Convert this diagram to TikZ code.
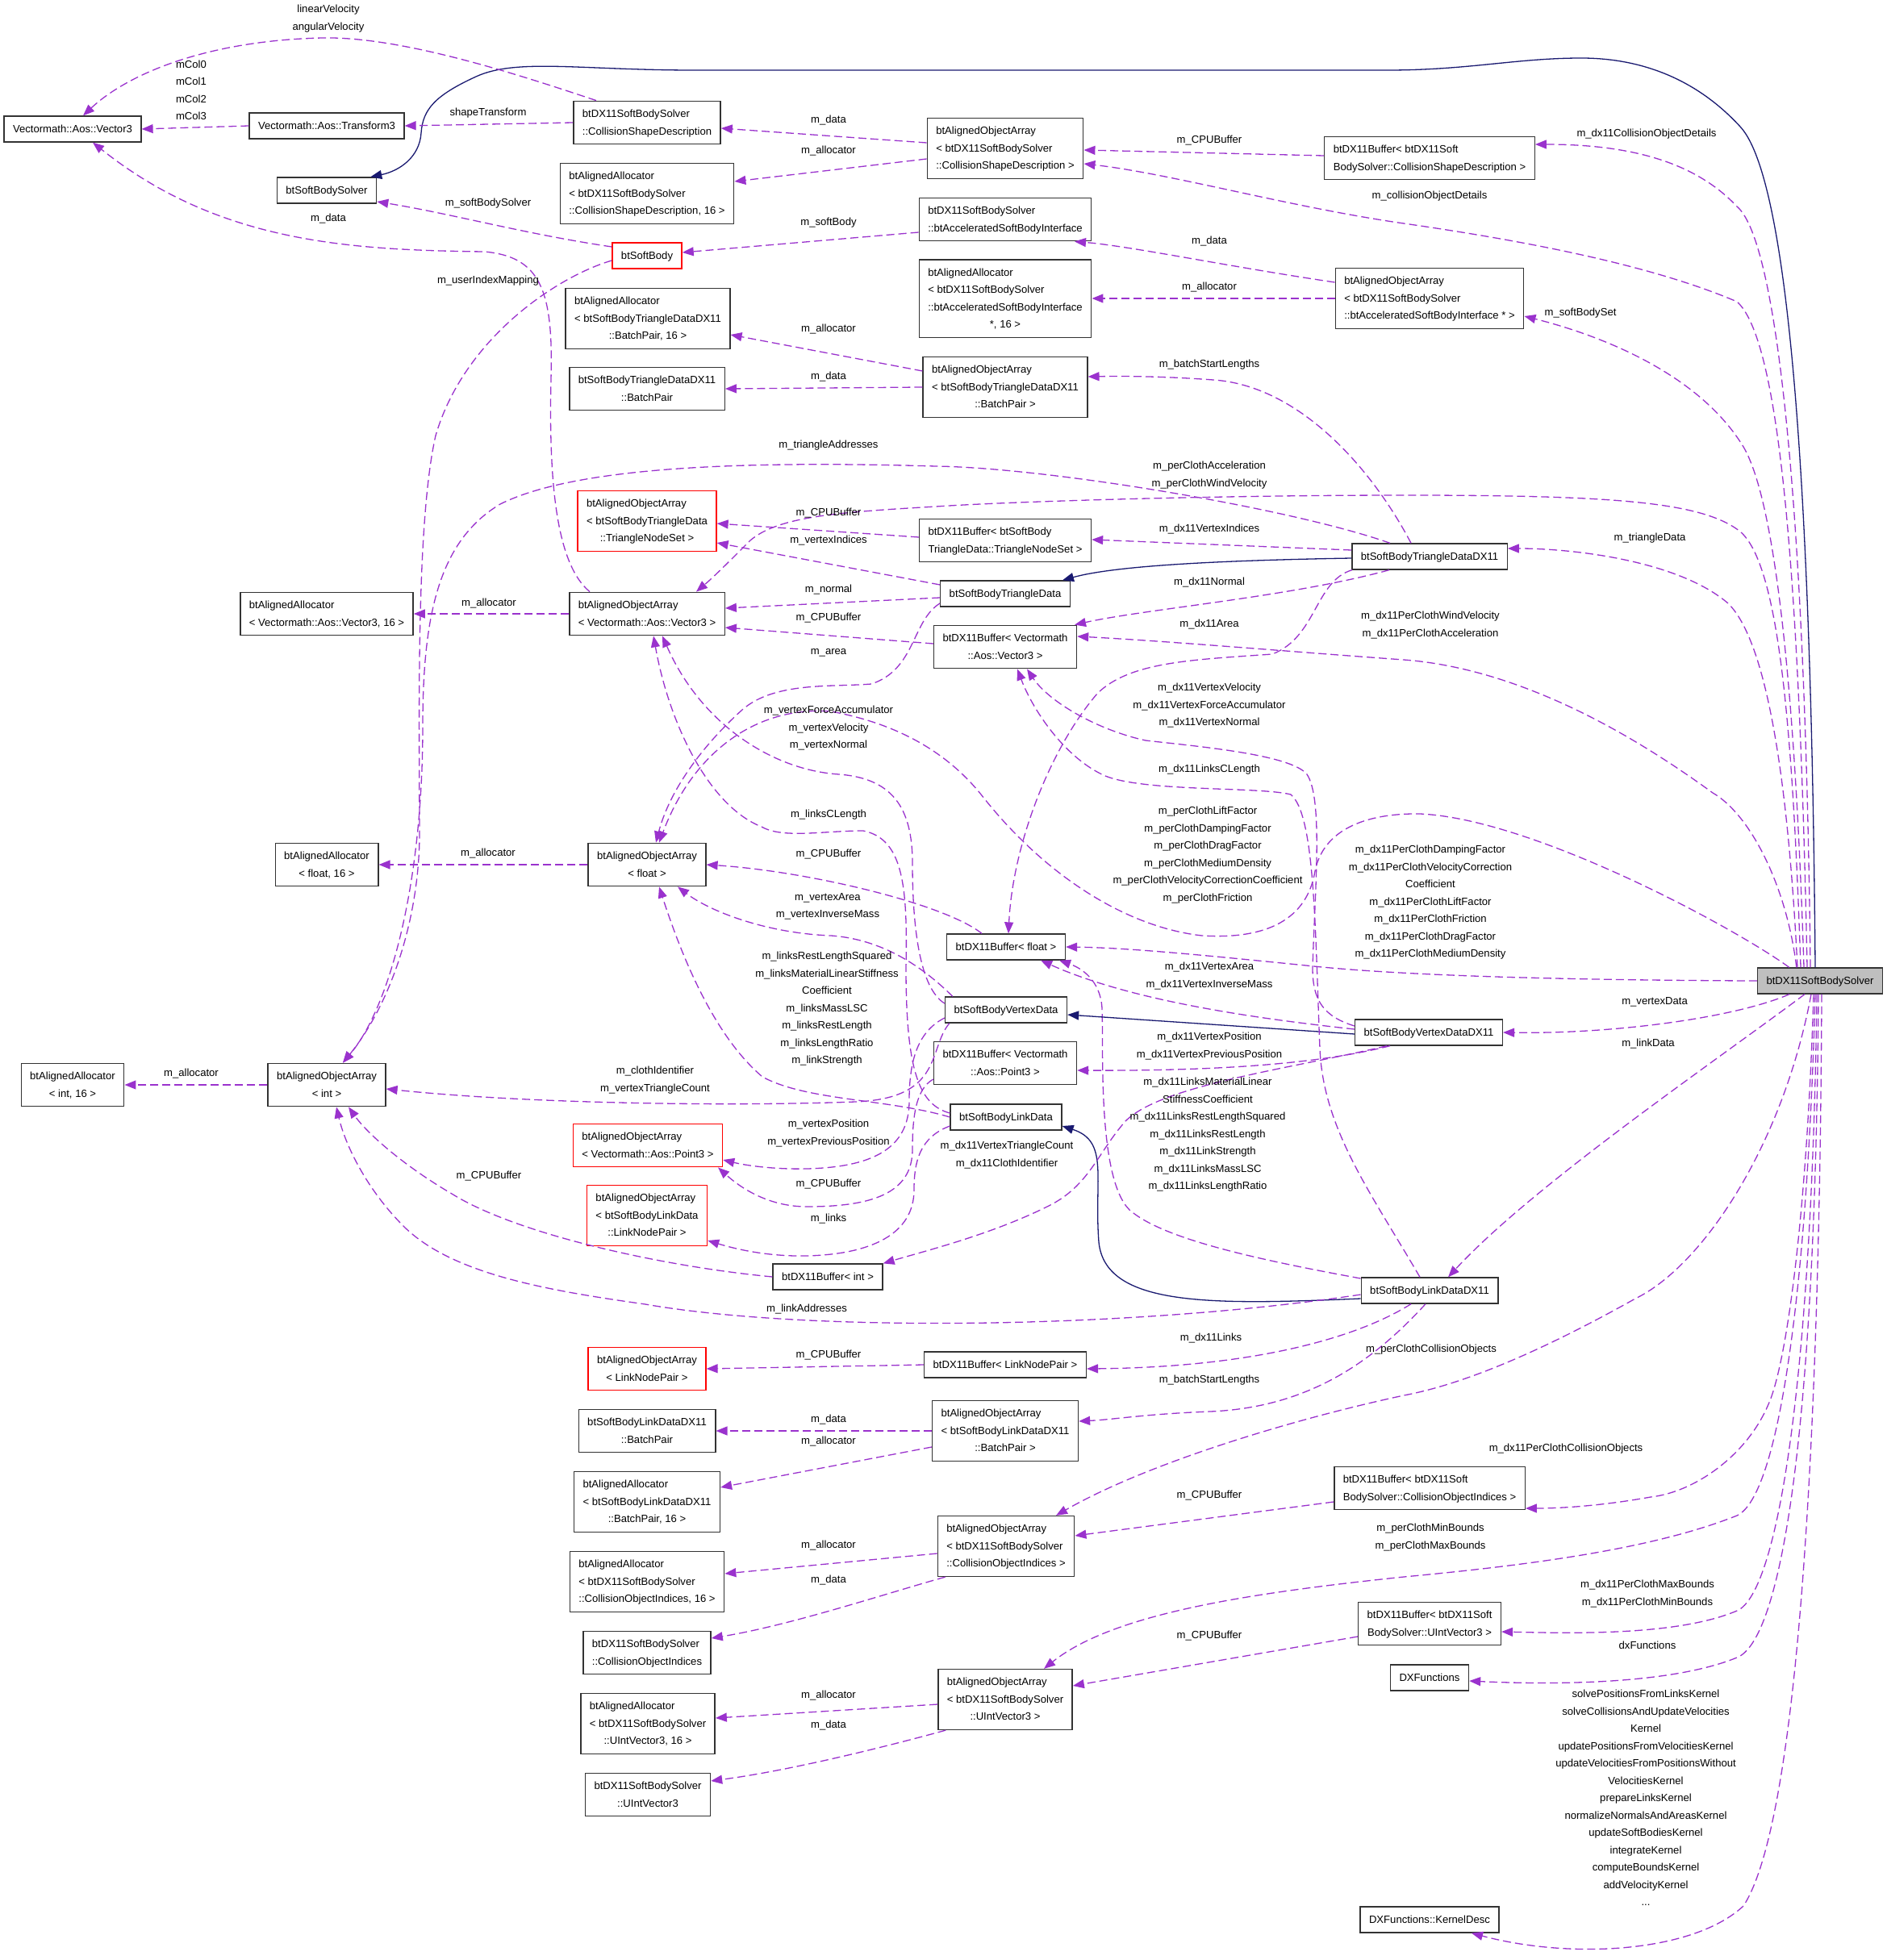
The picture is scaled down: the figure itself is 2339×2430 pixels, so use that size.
\documentclass[tikz,border=0pt]{standalone}
\usepackage{fontspec}
\setmainfont{Liberation Sans}
\usetikzlibrary{arrows.meta,calc}
\definecolor{depc}{HTML}{9A32CD}
\definecolor{inhc}{HTML}{191970}
\definecolor{mainfill}{HTML}{BFBFBF}
\newcommand{\nt}[2]{\begin{tabular}{@{}l@{}}#1\multicolumn{1}{@{}c@{}}{#2}\end{tabular}}
\begin{document}
\begin{tikzpicture}[x=0.5pt,y=-0.5pt,font=\fontsize{6.55}{10.75}\selectfont,
  cls/.style={draw=black!80,line width=0.7pt,fill=white,inner xsep=5.5pt,inner ysep=2.6pt,text=black},
  clsred/.style={cls,draw=red},
  clsmain/.style={cls,fill=mainfill},
  dep/.style={draw=depc,line width=0.65pt,dash pattern=on 5pt off 2.5pt,-{Triangle[length=7pt,width=5.5pt]}},
  inhs/.style={draw=inhc,line width=0.65pt,-{Triangle[length=7pt,width=5.5pt]}},
  lbl/.style={align=center,inner sep=0pt,text=black}]
\useasboundingbox (0,0) rectangle (2339,2430);
% ---------- nodes ----------
\node[cls] (V3) at (90,160) {\nt{}{Vectormath::Aos::Vector3}};
\node[cls] (AAint) at (90,1345) {\nt{btAlignedAllocator\\}{< int, 16 >}};
\node[cls] (T3) at (405,156) {\nt{}{Vectormath::Aos::Transform3}};
\node[cls] (SBS) at (405,236) {\nt{}{btSoftBodySolver}};
\node[cls] (AAV3) at (405,761) {\nt{btAlignedAllocator\\}{< Vectormath::Aos::Vector3, 16 >}};
\node[cls] (AAfloat) at (405,1072) {\nt{btAlignedAllocator\\}{< float, 16 >}};
\node[cls] (AOAint) at (405,1345) {\nt{btAlignedObjectArray\\}{< int >}};
\node[cls] (CSD) at (802,152) {\nt{btDX11SoftBodySolver\\}{::CollisionShapeDescription}};
\node[cls] (AACSD) at (802,240) {\nt{btAlignedAllocator\\< btDX11SoftBodySolver\\}{::CollisionShapeDescription, 16 >}};
\node[clsred] (SB) at (802,317) {\nt{}{btSoftBody}};
\node[cls] (AATBP) at (803,395) {\nt{btAlignedAllocator\\< btSoftBodyTriangleDataDX11\\}{::BatchPair, 16 >}};
\node[cls] (TBP) at (802,482) {\nt{btSoftBodyTriangleDataDX11\\}{::BatchPair}};
\node[clsred] (AOATNS) at (802,646) {\nt{btAlignedObjectArray\\< btSoftBodyTriangleData\\}{::TriangleNodeSet >}};
\node[cls] (AOAV3) at (802,761) {\nt{btAlignedObjectArray\\}{< Vectormath::Aos::Vector3 >}};
\node[cls] (AOAfloat) at (802,1072) {\nt{btAlignedObjectArray\\}{< float >}};
\node[clsred] (AOAP3) at (803,1420) {\nt{btAlignedObjectArray\\}{< Vectormath::Aos::Point3 >}};
\node[clsred] (AOALNP) at (802,1507) {\nt{btAlignedObjectArray\\< btSoftBodyLinkData\\}{::LinkNodePair >}};
\node[cls] (DXint) at (1026,1583) {\nt{}{btDX11Buffer< int >}};
\node[clsred] (AOALNP2) at (802,1697) {\nt{btAlignedObjectArray\\}{< LinkNodePair >}};
\node[cls] (LBP) at (802,1774) {\nt{btSoftBodyLinkDataDX11\\}{::BatchPair}};
\node[cls] (AALBP) at (802,1862) {\nt{btAlignedAllocator\\< btSoftBodyLinkDataDX11\\}{::BatchPair, 16 >}};
\node[cls] (AACOI) at (802,1961) {\nt{btAlignedAllocator\\< btDX11SoftBodySolver\\}{::CollisionObjectIndices, 16 >}};
\node[cls] (COI) at (802,2049) {\nt{btDX11SoftBodySolver\\}{::CollisionObjectIndices}};
\node[cls] (AAUIV) at (803,2137) {\nt{btAlignedAllocator\\< btDX11SoftBodySolver\\}{::UIntVector3, 16 >}};
\node[cls] (UIV) at (803,2225) {\nt{btDX11SoftBodySolver\\}{::UIntVector3}};
\node[cls] (AOACSD) at (1246,184) {\nt{btAlignedObjectArray\\< btDX11SoftBodySolver\\}{::CollisionShapeDescription >}};
\node[cls] (ASBI) at (1246,272) {\nt{btDX11SoftBodySolver\\}{::btAcceleratedSoftBodyInterface}};
\node[cls] (AAASBI) at (1246,370) {\nt{btAlignedAllocator\\< btDX11SoftBodySolver\\::btAcceleratedSoftBodyInterface\\}{*, 16 >}};
\node[cls] (AOATBP) at (1246,480) {\nt{btAlignedObjectArray\\< btSoftBodyTriangleDataDX11\\}{::BatchPair >}};
\node[cls] (DXTNS) at (1246,670) {\nt{btDX11Buffer< btSoftBody\\}{TriangleData::TriangleNodeSet >}};
\node[cls] (STD) at (1246,736) {\nt{}{btSoftBodyTriangleData}};
\node[cls] (DXV3) at (1246,802) {\nt{btDX11Buffer< Vectormath\\}{::Aos::Vector3 >}};
\node[cls] (DXfloat) at (1247,1174) {\nt{}{btDX11Buffer< float >}};
\node[cls] (SVD) at (1247,1252) {\nt{}{btSoftBodyVertexData}};
\node[cls] (DXP3) at (1246,1318) {\nt{btDX11Buffer< Vectormath\\}{::Aos::Point3 >}};
\node[cls] (SLD) at (1247,1385) {\nt{}{btSoftBodyLinkData}};
\node[cls] (DXLNP) at (1246,1692) {\nt{}{btDX11Buffer< LinkNodePair >}};
\node[cls] (AOALBP) at (1246,1774) {\nt{btAlignedObjectArray\\< btSoftBodyLinkDataDX11\\}{::BatchPair >}};
\node[cls] (AOACOI) at (1247,1917) {\nt{btAlignedObjectArray\\< btDX11SoftBodySolver\\}{::CollisionObjectIndices >}};
\node[cls] (AOAUIV) at (1246,2107) {\nt{btAlignedObjectArray\\< btDX11SoftBodySolver\\}{::UIntVector3 >}};
\node[cls] (DXCSD) at (1772,196) {\nt{btDX11Buffer< btDX11Soft\\}{BodySolver::CollisionShapeDescription >}};
\node[cls] (AOAASBI) at (1772,370) {\nt{btAlignedObjectArray\\< btDX11SoftBodySolver\\}{::btAcceleratedSoftBodyInterface * >}};
\node[cls] (STDX) at (1772,690) {\nt{}{btSoftBodyTriangleDataDX11}};
\node[cls] (SVDX) at (1771,1280) {\nt{}{btSoftBodyVertexDataDX11}};
\node[cls] (SLDX) at (1772,1600) {\nt{}{btSoftBodyLinkDataDX11}};
\node[cls] (DXCOI) at (1772,1845) {\nt{btDX11Buffer< btDX11Soft\\}{BodySolver::CollisionObjectIndices >}};
\node[cls] (DXUIV) at (1772,2013) {\nt{btDX11Buffer< btDX11Soft\\}{BodySolver::UIntVector3 >}};
\node[cls] (DXF) at (1772,2080) {\nt{}{DXFunctions}};
\node[cls] (KD) at (1772,2380) {\nt{}{DXFunctions::KernelDesc}};
\node[clsmain] (Main) at (2256,1216) {\nt{}{btDX11SoftBodySolver}};
% ---------- edges from main ----------
\draw[inhs] ($(Main.north)+(-6,0)$) .. controls (2246,700) and (2225,230) .. (2157,157) .. controls (2100,95) and (2030,72) .. (1960,72) .. controls (1880,72) and (1820,87) .. (1720,87) -- (860,87) .. controls (720,87) and (640,72) .. (590,95) .. controls (540,118) and (524,135) .. (522,165) .. controls (520,195) and (495,212) .. ($(SBS.north east)+(-8,0)$);
\draw[dep] ($(Main.north)+(-12,0)$) .. controls (2238,650) and (2205,300) .. (2153,256) .. controls (2105,205) and (2030,179) .. ($(DXCSD.east)+(0,-17)$);
\draw[dep] ($(Main.north)+(-16,0)$) .. controls (2230,700) and (2205,420) .. (2153,374) .. controls (2050,330) and (1900,300) .. (1740,277) .. controls (1600,257) and (1450,215) .. ($(AOACSD.east)+(0,19)$);
\draw[dep] ($(Main.north)+(-20,0)$) .. controls (2225,850) and (2200,620) .. (2161,554) .. controls (2110,470) and (2000,420) .. ($(AOAASBI.east)+(0,22)$);
\draw[dep] ($(Main.north)+(-24,0)$) .. controls (2222,900) and (2205,700) .. (2157,659) .. controls (2110,622) and (2000,614) .. (1740,614) .. controls (1500,614) and (1250,622) .. (1160,628) .. controls (1040,635) and (965,640) .. (930,670) .. controls (905,695) and (885,715) .. ($(AOAV3.north)+(61,0)$);
\draw[dep] ($(Main.north)+(-28,0)$) .. controls (2218,1000) and (2195,800) .. (2142,748) .. controls (2080,695) and (1950,680) .. ($(STDX.east)+(0,-10)$);
\draw[dep] ($(Main.north west)+(49,0)$) .. controls (2215,1100) and (2170,1010) .. (2123,983) .. controls (2050,930) and (1900,830) .. (1740,818) .. controls (1600,808) and (1450,795) .. ($(DXV3.east)+(0,-13)$);
\draw[dep] (Main.west) .. controls (1900,1215) and (1720,1208) .. (1619,1197) .. controls (1500,1185) and (1400,1175) .. (DXfloat.east);
\draw[dep] ($(Main.north west)+(40,0)$) .. controls (2150,1150) and (1900,1015) .. (1760,1009) .. controls (1690,1008) and (1640,1030) .. (1630,1080) .. controls (1620,1140) and (1570,1165) .. (1490,1160) .. controls (1400,1150) and (1300,1090) .. (1220,990) .. controls (1170,925) and (1100,895) .. (1030,882) .. controls (940,875) and (860,930) .. ($(AOAfloat.north)+(15,0)$);
\draw[dep] ($(Main.south)+(-38,0)$) .. controls (2150,1262) and (2000,1282) .. (SVDX.east);
\draw[dep] ($(Main.south)+(-19,0)$) .. controls (2120,1320) and (1900,1470) .. ($(SLDX.north)+(23,0)$);
\draw[dep] ($(Main.south)+(-11,0)$) .. controls (2210,1420) and (2110,1570) .. (2027,1610) .. controls (1920,1670) and (1820,1715) .. (1740,1730) .. controls (1600,1760) and (1420,1815) .. ($(AOACOI.north)+(62,0)$);
\draw[dep] ($(Main.south)+(-8,0)$) .. controls (2240,1500) and (2215,1690) .. (2192,1741) .. controls (2165,1805) and (2100,1850) .. (2046,1856) .. controls (1990,1866) and (1940,1870) .. ($(DXCOI.east)+(0,25)$);
\draw[dep] ($(Main.south)+(-6,0)$) .. controls (2240,1600) and (2205,1855) .. (2153,1879) .. controls (2050,1920) and (1900,1940) .. (1740,1955) .. controls (1550,1975) and (1380,2000) .. ($(AOAUIV.north)+(48,0)$);
\draw[dep] ($(Main.south)+(-4,0)$) .. controls (2246,1700) and (2205,1975) .. (2153,1997) .. controls (2080,2028) and (1950,2025) .. ($(DXUIV.east)+(0,10)$);
\draw[dep] ($(Main.south)+(-2,0)$) .. controls (2250,1800) and (2205,2035) .. (2153,2055) .. controls (2080,2085) and (1950,2090) .. ($(DXF.east)+(0,4)$);
\draw[dep] ($(Main.south)+(2,0)$) .. controls (2256,1700) and (2235,2250) .. (2161,2363) .. controls (2100,2420) and (1950,2430) .. ($(KD.south)+(52,0)$);
% ---------- other edges ----------
\draw[dep] ($(CSD.north)+(-63,0)$) .. controls (650,95) and (500,45) .. (400,47) .. controls (260,50) and (160,90) .. ($(V3.north)+(13,0)$);
\draw[dep] (T3.west) -- (V3.east);
\draw[dep] ($(AOAV3.north)+(-71,0)$) .. controls (690,700) and (680,600) .. (683,470) .. controls (686,360) and (670,318) .. (600,312) .. controls (430,310) and (270,300) .. ($(V3.south)+(25,0)$);
\draw[dep] ($(SB.west)+(0,-11)$) .. controls (650,290) and (560,265) .. ($(SBS.east)+(0,14)$);
\draw[dep] (CSD.west) -- (T3.east);
\draw[dep] ($(AOACSD.west)+(0,-7)$) -- ($(CSD.east)+(0,7)$);
\draw[dep] ($(AOACSD.west)+(0,13)$) -- ($(AACSD.east)+(0,-15)$);
\draw[dep] ($(DXCSD.west)+(0,-3)$) -- ($(AOACSD.east)+(0,2)$);
\draw[dep] ($(ASBI.west)+(0,16)$) -- ($(SB.east)+(0,-4)$);
\draw[dep] ($(SB.west)+(0,6)$) .. controls (690,343) and (575,420) .. (540,540) .. controls (515,650) and (520,900) .. (520,1040) .. controls (518,1150) and (480,1250) .. ($(AOAint.north)+(20,0)$);
\draw[dep] ($(STDX.north)+(-49,0)$) .. controls (1600,630) and (1300,580) .. (1160,578) .. controls (950,572) and (720,575) .. (620,625) .. controls (545,670) and (524,760) .. (524,900) .. controls (524,1100) and (482,1250) .. ($(AOAint.north)+(20,0)$);
\draw[dep] ($(AOAASBI.west)+(0,-20)$) .. controls (1520,330) and (1400,305) .. ($(ASBI.south)+(86,0)$);
\draw[dep] (AOAASBI.west) -- (AAASBI.east);
\draw[dep] ($(AOATBP.west)+(0,-20)$) -- ($(AATBP.east)+(0,20)$);
\draw[dep] (AOATBP.west) -- (TBP.east);
\draw[dep] ($(STDX.north)+(-23,0)$) .. controls (1700,580) and (1610,478) .. (1504,471) .. controls (1450,467) and (1400,466) .. ($(AOATBP.east)+(0,-13)$);
\draw[dep] ($(DXTNS.west)+(0,-4)$) -- ($(AOATNS.east)+(0,3)$);
\draw[dep] ($(STD.west)+(0,-11)$) -- ($(AOATNS.east)+(0,27)$);
\draw[dep] ($(STDX.west)+(0,-8)$) -- ($(DXTNS.east)+(0,-1)$);
\draw[inhs] ($(STDX.west)+(0,2)$) .. controls (1500,695) and (1380,702) .. ($(STD.north)+(71,0)$);
\draw[dep] ($(STDX.south)+(-50,0)$) .. controls (1600,740) and (1420,755) .. ($(DXV3.north)+(86,0)$);
\draw[dep] ($(STDX.south)+(-96,0)$) .. controls (1630,720) and (1632,790) .. (1577,811) .. controls (1480,818) and (1400,820) .. (1360,860) .. controls (1300,930) and (1255,1050) .. ($(DXfloat.north)+(3,0)$);
\draw[dep] ($(STD.west)+(0,5)$) -- ($(AOAV3.east)+(0,-7)$);
\draw[dep] ($(DXV3.west)+(0,-4)$) -- ($(AOAV3.east)+(0,17)$);
\draw[dep] ($(STD.west)+(0,12)$) .. controls (1130,770) and (1135,830) .. (1080,848) .. controls (1030,852) and (960,845) .. (920,880) .. controls (870,925) and (830,980) .. ($(AOAfloat.north)+(11,0)$);
\draw[dep] (AOAV3.west) -- (AAV3.east);
\draw[dep] (AOAfloat.west) -- (AAfloat.east);
\draw[dep] (AOAint.west) -- (AAint.east);
\draw[dep] ($(DXfloat.north)+(-30,0)$) .. controls (1170,1120) and (1000,1080) .. (AOAfloat.east);
\draw[dep] ($(SVD.west)+(0,-8)$) .. controls (1140,1225) and (1131,1150) .. (1131,1070) .. controls (1131,1000) and (1105,965) .. (1040,960) .. controls (960,955) and (870,900) .. ($(AOAV3.south)+(19,0)$);
\draw[dep] ($(SLD.west)+(0,-5)$) .. controls (1140,1370) and (1123,1330) .. (1123,1200) .. controls (1125,1100) and (1120,1040) .. (1070,1030) .. controls (1020,1030) and (970,1040) .. (944,1025) .. controls (880,1000) and (830,900) .. ($(AOAV3.south)+(8,0)$);
\draw[dep] ($(SVD.north west)+(10,0)$) .. controls (1150,1205) and (1100,1165) .. (1030,1160) .. controls (950,1157) and (880,1130) .. ($(AOAfloat.south)+(38,0)$);
\draw[dep] (SLD.west) .. controls (1100,1362) and (1000,1365) .. (945,1335) .. controls (880,1280) and (840,1170) .. ($(AOAfloat.south)+(15,0)$);
\draw[dep] ($(SVDX.west)+(0,-4)$) .. controls (1550,1262) and (1400,1240) .. ($(DXfloat.south)+(43,0)$);
\draw[dep] ($(SLDX.west)+(0,-15)$) .. controls (1550,1560) and (1440,1535) .. (1400,1500) .. controls (1360,1460) and (1368,1300) .. (1366,1250) .. controls (1364,1215) and (1340,1200) .. ($(DXfloat.south)+(66,0)$);
\draw[inhs] ($(SVDX.west)+(0,2)$) -- ($(SVD.east)+(0,6)$);
\draw[dep] ($(SVDX.south)+(-48,0)$) .. controls (1650,1315) and (1540,1328) .. ($(DXP3.east)+(0,9)$);
\draw[inhs] ($(SLDX.west)+(0,10)$) .. controls (1500,1618) and (1370,1620) .. (1362,1540) .. controls (1356,1460) and (1375,1415) .. ($(SLD.east)+(0,11)$);
\draw[dep] ($(SVD.west)+(0,10)$) .. controls (1135,1280) and (1127,1320) .. (1127,1365) .. controls (1127,1425) and (1080,1447) .. (1000,1449) .. controls (960,1450) and (925,1445) .. ($(AOAP3.east)+(0,18)$);
\draw[dep] ($(DXP3.west)+(0,20)$) .. controls (1135,1350) and (1131,1385) .. (1131,1425) .. controls (1131,1480) and (1080,1496) .. (1000,1496) .. controls (950,1496) and (915,1470) .. ($(AOAP3.south)+(87,0)$);
\draw[dep] ($(SLD.west)+(0,11)$) .. controls (1140,1410) and (1133,1440) .. (1133,1475) .. controls (1133,1530) and (1080,1555) .. (1000,1557) .. controls (950,1558) and (910,1548) .. ($(AOALNP.east)+(0,31)$);
\draw[dep] ($(SVD.south west)+(6,0)$) .. controls (1150,1300) and (1170,1362) .. (1060,1366) .. controls (900,1372) and (650,1368) .. ($(AOAint.east)+(0,5)$);
\draw[dep] (DXint.west) .. controls (820,1570) and (640,1530) .. (560,1480) .. controls (500,1445) and (455,1405) .. ($(AOAint.south)+(27,0)$);
\draw[dep] ($(SLDX.west)+(0,5)$) .. controls (1400,1648) and (1000,1652) .. (800,1617) .. controls (680,1600) and (560,1580) .. (500,1520) .. controls (455,1475) and (428,1420) .. ($(AOAint.south)+(12,0)$);
\draw[dep] ($(SVDX.south)+(-52,0)$) .. controls (1600,1325) and (1440,1345) .. (1395,1390) .. controls (1360,1430) and (1350,1470) .. (1300,1495) .. controls (1230,1530) and (1150,1550) .. (DXint.north east);
\draw[dep] ($(SVDX.west)+(0,-8)$) .. controls (1640,1260) and (1627,1240) .. (1627,1200) .. controls (1630,1100) and (1640,990) .. (1620,960) .. controls (1600,935) and (1480,925) .. (1420,918) .. controls (1360,905) and (1300,870) .. ($(DXV3.south)+(27,0)$);
\draw[dep] ($(SLDX.north)+(-12,0)$) .. controls (1700,1480) and (1640,1400) .. (1636,1300) .. controls (1630,1150) and (1630,1010) .. (1600,985) .. controls (1560,975) and (1420,982) .. (1370,962) .. controls (1320,940) and (1280,880) .. ($(DXV3.south)+(15,0)$);
\draw[dep] ($(SLDX.south)+(-23,0)$) .. controls (1680,1660) and (1550,1695) .. ($(DXLNP.east)+(0,5)$);
\draw[dep] ($(SLDX.south)+(-5,0)$) .. controls (1700,1690) and (1620,1745) .. (1500,1750) .. controls (1420,1753) and (1380,1760) .. ($(AOALBP.east)+(0,-12)$);
\draw[dep] (DXLNP.west) -- (AOALNP2.east);
\draw[dep] (AOALBP.west) -- (LBP.east);
\draw[dep] ($(AOALBP.west)+(0,20)$) -- ($(AALBP.east)+(0,-18)$);
\draw[dep] ($(DXCOI.west)+(0,17)$) -- ($(AOACOI.east)+(0,-13)$);
\draw[dep] ($(AOACOI.west)+(0,9)$) -- ($(AACOI.east)+(0,-10)$);
\draw[dep] ($(AOACOI.south west)+(10,0)$) .. controls (1100,1975) and (980,2015) .. ($(COI.east)+(0,-18)$);
\draw[dep] ($(DXUIV.west)+(0,16)$) -- ($(AOAUIV.east)+(0,-17)$);
\draw[dep] ($(AOAUIV.west)+(0,6)$) -- ($(AAUIV.east)+(0,-7)$);
\draw[dep] ($(AOAUIV.south west)+(10,0)$) .. controls (1100,2165) and (980,2195) .. ($(UIV.east)+(0,-17)$);
% ---------- labels ----------
\node[lbl] (l1) at (407,23) {linearVelocity\\angularVelocity};
\node[lbl] (l2) at (237,112) {mCol0\\mCol1\\mCol2\\mCol3};
\node[lbl] (l3) at (605,140) {shapeTransform};
\node[lbl] (l4) at (605,252) {m\_softBodySolver};
\node[lbl] (l5) at (407,271) {m\_data};
\node[lbl] (l6) at (605,348) {m\_userIndexMapping};
\node[lbl] (l7) at (1027,149) {m\_data};
\node[lbl] (l8) at (1027,187) {m\_allocator};
\node[lbl] (l9) at (1027,276) {m\_softBody};
\node[lbl] (l10) at (1027,408) {m\_allocator};
\node[lbl] (l11) at (1027,467) {m\_data};
\node[lbl] (l12) at (1027,552) {m\_triangleAddresses};
\node[lbl] (l13) at (1027,636) {m\_CPUBuffer};
\node[lbl] (l14) at (1027,670) {m\_vertexIndices};
\node[lbl] (l15) at (1027,731) {m\_normal};
\node[lbl] (l16) at (606,748) {m\_allocator};
\node[lbl] (l17) at (1027,766) {m\_CPUBuffer};
\node[lbl] (l18) at (1027,809) {m\_area};
\node[lbl] (l19) at (1499,174) {m\_CPUBuffer};
\node[lbl] (l20) at (1499,299) {m\_data};
\node[lbl] (l21) at (1499,356) {m\_allocator};
\node[lbl] (l22) at (1499,452) {m\_batchStartLengths};
\node[lbl] (l23) at (1499,589) {m\_perClothAcceleration\\m\_perClothWindVelocity};
\node[lbl] (l24) at (1499,656) {m\_dx11VertexIndices};
\node[lbl] (l25) at (1499,722) {m\_dx11Normal};
\node[lbl] (l26) at (1499,774) {m\_dx11Area};
\node[lbl] (l27) at (2041,166) {m\_dx11CollisionObjectDetails};
\node[lbl] (l28) at (1772,243) {m\_collisionObjectDetails};
\node[lbl] (l29) at (1959,388) {m\_softBodySet};
\node[lbl] (l30) at (2045,667) {m\_triangleData};
\node[lbl] (l31) at (1773,775) {m\_dx11PerClothWindVelocity\\m\_dx11PerClothAcceleration};
\node[lbl] (l32) at (1027,903) {m\_vertexForceAccumulator\\m\_vertexVelocity\\m\_vertexNormal};
\node[lbl] (l33) at (1027,1010) {m\_linksCLength};
\node[lbl] (l34) at (605,1058) {m\_allocator};
\node[lbl] (l35) at (1027,1059) {m\_CPUBuffer};
\node[lbl] (l36) at (1026,1124) {m\_vertexArea\\m\_vertexInverseMass};
\node[lbl] (l37) at (1025,1251) {m\_linksRestLengthSquared\\m\_linksMaterialLinearStiffness\\Coefficient\\m\_linksMassLSC\\m\_linksRestLength\\m\_linksLengthRatio\\m\_linkStrength};
\node[lbl] (l38) at (812,1339) {m\_clothIdentifier\\m\_vertexTriangleCount};
\node[lbl] (l39) at (237,1331) {m\_allocator};
\node[lbl] (l40) at (1027,1405) {m\_vertexPosition\\m\_vertexPreviousPosition};
\node[lbl] (l41) at (606,1458) {m\_CPUBuffer};
\node[lbl] (l42) at (1027,1468) {m\_CPUBuffer};
\node[lbl] (l43) at (1027,1511) {m\_links};
\node[lbl] (l44) at (1000,1623) {m\_linkAddresses};
\node[lbl] (l45) at (1499,875) {m\_dx11VertexVelocity\\m\_dx11VertexForceAccumulator\\m\_dx11VertexNormal};
\node[lbl] (l46) at (1499,954) {m\_dx11LinksCLength};
\node[lbl] (l47) at (1497,1060) {m\_perClothLiftFactor\\m\_perClothDampingFactor\\m\_perClothDragFactor\\m\_perClothMediumDensity\\m\_perClothVelocityCorrectionCoefficient\\m\_perClothFriction};
\node[lbl] (l48) at (1773,1119) {m\_dx11PerClothDampingFactor\\m\_dx11PerClothVelocityCorrection\\Coefficient\\m\_dx11PerClothLiftFactor\\m\_dx11PerClothFriction\\m\_dx11PerClothDragFactor\\m\_dx11PerClothMediumDensity};
\node[lbl] (l49) at (1499,1210) {m\_dx11VertexArea\\m\_dx11VertexInverseMass};
\node[lbl] (l50) at (2051,1242) {m\_vertexData};
\node[lbl] (l51) at (1499,1297) {m\_dx11VertexPosition\\m\_dx11VertexPreviousPosition};
\node[lbl] (l52) at (2043,1294) {m\_linkData};
\node[lbl] (l53) at (1497,1407) {m\_dx11LinksMaterialLinear\\StiffnessCoefficient\\m\_dx11LinksRestLengthSquared\\m\_dx11LinksRestLength\\m\_dx11LinkStrength\\m\_dx11LinksMassLSC\\m\_dx11LinksLengthRatio};
\node[lbl] (l54) at (1248,1432) {m\_dx11VertexTriangleCount\\m\_dx11ClothIdentifier};
\node[lbl] (l55) at (1501,1659) {m\_dx11Links};
\node[lbl] (l56) at (1774,1673) {m\_perClothCollisionObjects};
\node[lbl] (l57) at (1027,1680) {m\_CPUBuffer};
\node[lbl] (l58) at (1499,1711) {m\_batchStartLengths};
\node[lbl] (l59) at (1027,1760) {m\_data};
\node[lbl] (l60) at (1027,1787) {m\_allocator};
\node[lbl] (l61) at (1941,1796) {m\_dx11PerClothCollisionObjects};
\node[lbl] (l62) at (1499,1854) {m\_CPUBuffer};
\node[lbl] (l63) at (1773,1906) {m\_perClothMinBounds\\m\_perClothMaxBounds};
\node[lbl] (l64) at (1027,1916) {m\_allocator};
\node[lbl] (l65) at (1027,1959) {m\_data};
\node[lbl] (l66) at (2042,1976) {m\_dx11PerClothMaxBounds\\m\_dx11PerClothMinBounds};
\node[lbl] (l67) at (1499,2028) {m\_CPUBuffer};
\node[lbl] (l68) at (2042,2040) {dxFunctions};
\node[lbl] (l69) at (1027,2102) {m\_allocator};
\node[lbl] (l70) at (1027,2139) {m\_data};
\node[lbl] (l71) at (2040,2229) {solvePositionsFromLinksKernel\\solveCollisionsAndUpdateVelocities\\Kernel\\updatePositionsFromVelocitiesKernel\\updateVelocitiesFromPositionsWithout\\VelocitiesKernel\\prepareLinksKernel\\normalizeNormalsAndAreasKernel\\updateSoftBodiesKernel\\integrateKernel\\computeBoundsKernel\\addVelocityKernel\\...};
\end{tikzpicture}
\end{document}
